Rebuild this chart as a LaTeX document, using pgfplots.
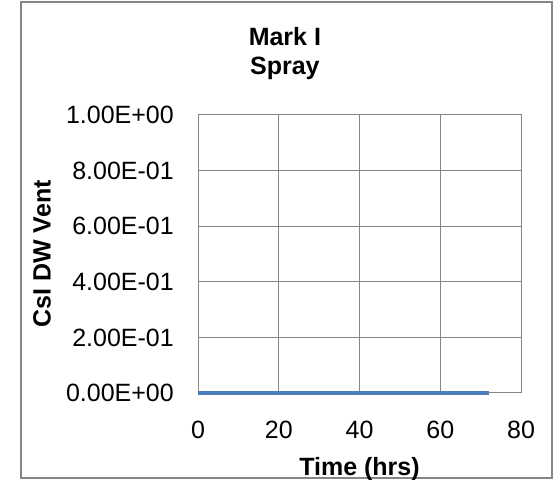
\documentclass[border=0pt]{standalone}
\usepackage{fontspec}
\setmainfont{Liberation Sans}
\usepackage{pgfplots}
\pgfplotsset{compat=1.18}
\definecolor{gridgray}{RGB}{134,134,134}
\definecolor{lineblue}{RGB}{74,126,187}
\begin{document}
\begin{tikzpicture}[x=1bp,y=1bp]
\useasboundingbox (0,0) rectangle (556,480);
\draw[gridgray, line width=2bp] (20.7,2) rectangle (552,478);
\begin{axis}[
  at={(198bp,87bp)}, anchor=south west, scale only axis,
  width=323bp, height=278bp,
  xmin=0, xmax=80, ymin=0, ymax=1,
  xtick={0,20,40,60,80}, xticklabels={0,20,40,60,80},
  ytick={0,0.2,0.4,0.6,0.8,1},
  yticklabels={0.00E+00,2.00E-01,4.00E-01,6.00E-01,8.00E-01,1.00E+00},
  grid=major, major grid style={gridgray, line width=1bp},
  axis line style={gridgray, line width=1bp},
  major tick length=0pt,
  tick label style={font=\fontsize{25bp}{30bp}\selectfont},
  yticklabel style={anchor=east, inner sep=0pt, xshift=-24bp},
  xticklabel style={anchor=base, inner sep=0pt, yshift=-46bp},
  xlabel={\textbf{Time (hrs)}},
  ylabel={\textbf{CsI DW Vent}},
  label style={font=\fontsize{25bp}{30bp}\selectfont},
  xlabel style={at={(axis description cs:0.5,-0.272)}, anchor=center},
  ylabel style={at={(axis description cs:-0.483,0.5)}, anchor=center},
  title={\textbf{Mark I}\\[-1bp]\textbf{Spray}},
  title style={at={(axis description cs:0.269,1.198)}, anchor=center, align=center, font=\fontsize{25bp}{30bp}\selectfont},
  clip=false,
]
\addplot[lineblue, line width=4.3bp] coordinates {(0,0) (12,0) (24,0) (36,0) (48,0) (60,0) (72,0)};
\end{axis}
\end{tikzpicture}
\end{document}
